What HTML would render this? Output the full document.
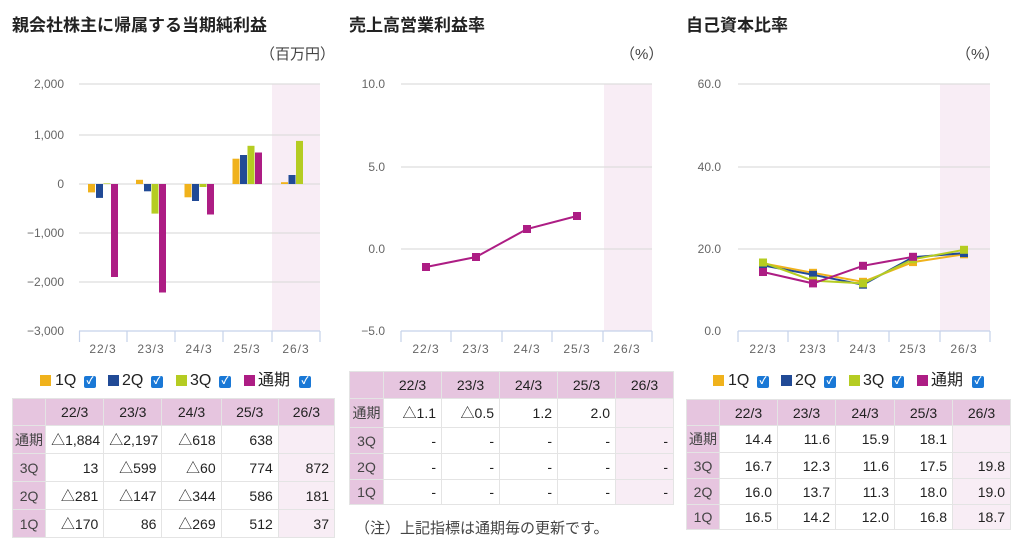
<!DOCTYPE html>
<html><head><meta charset="utf-8"><style>
body{margin:0;width:1024px;height:546px;background:#fff;position:relative;overflow:hidden;font-family:"Liberation Sans","Noto Sans CJK JP",sans-serif;color:#222}
.t{position:absolute;font-weight:bold;font-size:17px;top:11px}
.u{position:absolute;font-size:15px;color:#444;top:43px}
table{position:absolute;border-collapse:collapse;font-size:14px;table-layout:fixed}
td,th{border:1.5px solid #e4e4e4;padding:0 5px;text-align:right;color:#222;font-weight:normal}
th{background:#e6c5df;text-align:center}
td.h{background:#e6c5df;text-align:center;color:#444;padding:0}
td.s{background:#f8edf5}
.lg{position:absolute;top:372px;font-size:16px;height:18px}
.lg span{position:absolute;top:0;line-height:18px}
.sq{width:11px;height:11px;top:3px!important}
.cb{width:12px;height:12px;top:4px!important;background:#1a78d6;border-radius:2px;color:#fff;font-size:10px;line-height:12px!important;text-align:center;font-weight:bold}
</style></head><body>
<div class="t" style="left:12px">親会社株主に帰属する当期純利益</div>
<div class="t" style="left:349px">売上高営業利益率</div>
<div class="t" style="left:686px">自己資本比率</div>
<div class="u" style="left:260px">（百万円）</div>
<div class="u" style="left:620px">（%）</div>
<div class="u" style="left:956px">（%）</div>

<svg width="1024" height="546" style="position:absolute;left:0;top:0" font-family="Liberation Sans, sans-serif" font-size="12" fill="#666">
<rect x="272" y="84" width="48" height="247" fill="#f8edf5"/>
<g stroke="#ddd" stroke-width="1.2">
<line x1="79" x2="320" y1="84" y2="84"/><line x1="79" x2="320" y1="135" y2="135"/><line x1="79" x2="320" y1="184" y2="184"/><line x1="79" x2="320" y1="233" y2="233"/><line x1="79" x2="320" y1="282" y2="282"/>
</g>
<g stroke="#c5d2ea" stroke-width="1.2"><line x1="79" x2="320" y1="331" y2="331"/>
<line x1="79.5" x2="79.5" y1="331" y2="342"/><line x1="127" x2="127" y1="331" y2="342"/><line x1="175" x2="175" y1="331" y2="342"/><line x1="223" x2="223" y1="331" y2="342"/><line x1="272" x2="272" y1="331" y2="342"/><line x1="320" x2="320" y1="331" y2="342"/></g>
<g text-anchor="end"><text x="64" y="88">2,000</text><text x="64" y="139">1,000</text><text x="64" y="188">0</text><text x="64" y="237">−1,000</text><text x="64" y="286">−2,000</text><text x="64" y="335">−3,000</text></g>
<g text-anchor="middle" letter-spacing="1"><text x="103" y="353">22/3</text><text x="151" y="353">23/3</text><text x="199" y="353">24/3</text><text x="247" y="353">25/3</text><text x="296" y="353">26/3</text></g>
<g>
<rect x="88" y="184" width="7" height="8.4" fill="#f0b21c"/><rect x="96" y="184" width="7" height="13.9" fill="#214a96"/><rect x="103.5" y="183.4" width="7" height="0.6" fill="#b5cc22"/><rect x="111" y="184" width="7" height="93" fill="#ad1d84"/>
<rect x="136" y="179.8" width="7" height="4.2" fill="#f0b21c"/><rect x="144" y="184" width="7" height="7.3" fill="#214a96"/><rect x="151.5" y="184" width="7" height="29.6" fill="#b5cc22"/><rect x="159" y="184" width="7" height="108.5" fill="#ad1d84"/>
<rect x="184.5" y="184" width="7" height="13.3" fill="#f0b21c"/><rect x="192" y="184" width="7" height="17" fill="#214a96"/><rect x="199.5" y="184" width="7" height="3" fill="#b5cc22"/><rect x="207" y="184" width="7" height="30.5" fill="#ad1d84"/>
<rect x="232.5" y="158.7" width="7" height="25.3" fill="#f0b21c"/><rect x="240" y="155" width="7" height="29" fill="#214a96"/><rect x="247.5" y="145.8" width="7" height="38.2" fill="#b5cc22"/><rect x="255" y="152.5" width="7" height="31.5" fill="#ad1d84"/>
<rect x="281" y="182.2" width="7" height="1.8" fill="#f0b21c"/><rect x="288.5" y="175" width="7" height="9" fill="#214a96"/><rect x="296" y="140.9" width="7" height="43.1" fill="#b5cc22"/>
</g>
<rect x="604" y="84" width="48" height="247" fill="#f8edf5"/>
<g stroke="#ddd" stroke-width="1.2"><line x1="401" x2="652" y1="84" y2="84"/><line x1="401" x2="652" y1="167" y2="167"/><line x1="401" x2="652" y1="249" y2="249"/></g>
<g stroke="#c5d2ea" stroke-width="1.2"><line x1="401" x2="652" y1="331" y2="331"/>
<line x1="401" x2="401" y1="331" y2="342"/><line x1="451" x2="451" y1="331" y2="342"/><line x1="502" x2="502" y1="331" y2="342"/><line x1="552" x2="552" y1="331" y2="342"/><line x1="603" x2="603" y1="331" y2="342"/><line x1="652" x2="652" y1="331" y2="342"/></g>
<g text-anchor="end"><text x="385" y="88">10.0</text><text x="385" y="171">5.0</text><text x="385" y="253">0.0</text><text x="385" y="335">−5.0</text></g>
<g text-anchor="middle" letter-spacing="1"><text x="426" y="353">22/3</text><text x="476" y="353">23/3</text><text x="527" y="353">24/3</text><text x="577" y="353">25/3</text><text x="627" y="353">26/3</text></g>
<polyline points="426,267 476,257 527,229 577,216" fill="none" stroke="#ad1d84" stroke-width="2"/>
<g fill="#ad1d84"><rect x="422" y="263" width="8" height="8"/><rect x="472" y="253" width="8" height="8"/><rect x="523" y="225" width="8" height="8"/><rect x="573" y="212" width="8" height="8"/></g>
<rect x="940" y="84" width="50" height="247" fill="#f8edf5"/>
<g stroke="#ddd" stroke-width="1.2"><line x1="738" x2="990" y1="84" y2="84"/><line x1="738" x2="990" y1="167" y2="167"/><line x1="738" x2="990" y1="249" y2="249"/></g>
<g stroke="#c5d2ea" stroke-width="1.2"><line x1="738" x2="990" y1="331" y2="331"/>
<line x1="738" x2="738" y1="331" y2="342"/><line x1="788" x2="788" y1="331" y2="342"/><line x1="838" x2="838" y1="331" y2="342"/><line x1="889" x2="889" y1="331" y2="342"/><line x1="940" x2="940" y1="331" y2="342"/><line x1="990" x2="990" y1="331" y2="342"/></g>
<g text-anchor="end"><text x="721" y="88">60.0</text><text x="721" y="171">40.0</text><text x="721" y="253">20.0</text><text x="721" y="335">0.0</text></g>
<g text-anchor="middle" letter-spacing="1"><text x="763" y="353">22/3</text><text x="813" y="353">23/3</text><text x="863" y="353">24/3</text><text x="913" y="353">25/3</text><text x="964" y="353">26/3</text></g>
<g fill="none" stroke-width="2">
<polyline stroke="#f0b21c" points="763,263.4 813,272.8 863,281.8 913,262.1 964,254.3"/>
<polyline stroke="#214a96" points="763,265.4 813,274.8 863,284.7 913,257.2 964,253.1"/>
<polyline stroke="#b5cc22" points="763,262.5 813,280.6 863,283.4 913,259.3 964,249.8"/>
<polyline stroke="#ad1d84" points="763,272 813,283.4 863,265.8 913,256.8"/>
</g>
<g fill="#f0b21c"><rect x="759" y="259.4" width="8" height="8"/><rect x="809" y="268.8" width="8" height="8"/><rect x="859" y="277.8" width="8" height="8"/><rect x="909" y="258.1" width="8" height="8"/><rect x="960" y="250.3" width="8" height="8"/></g>
<g fill="#214a96"><rect x="759" y="261.4" width="8" height="8"/><rect x="809" y="270.8" width="8" height="8"/><rect x="859" y="280.7" width="8" height="8"/><rect x="909" y="253.2" width="8" height="8"/><rect x="960" y="249.1" width="8" height="8"/></g>
<g fill="#b5cc22"><rect x="759" y="258.5" width="8" height="8"/><rect x="809" y="276.6" width="8" height="8"/><rect x="859" y="279.4" width="8" height="8"/><rect x="909" y="255.3" width="8" height="8"/><rect x="960" y="245.8" width="8" height="8"/></g>
<g fill="#ad1d84"><rect x="759" y="268" width="8" height="8"/><rect x="809" y="279.4" width="8" height="8"/><rect x="859" y="261.8" width="8" height="8"/><rect x="909" y="252.8" width="8" height="8"/></g>
</svg>

<div class="lg" style="left:40px;width:300px">
<span class="sq" style="left:0;background:#f0b21c"></span><span style="left:15px">1Q</span><span class="cb" style="left:44px">✓</span>
<span class="sq" style="left:68px;background:#214a96"></span><span style="left:82px">2Q</span><span class="cb" style="left:111px">✓</span>
<span class="sq" style="left:136px;background:#b5cc22"></span><span style="left:150px">3Q</span><span class="cb" style="left:179px">✓</span>
<span class="sq" style="left:204px;background:#ad1d84"></span><span style="left:218px">通期</span><span class="cb" style="left:259px">✓</span>
</div>
<div class="lg" style="left:713px;width:300px">
<span class="sq" style="left:0;background:#f0b21c"></span><span style="left:15px">1Q</span><span class="cb" style="left:44px">✓</span>
<span class="sq" style="left:68px;background:#214a96"></span><span style="left:82px">2Q</span><span class="cb" style="left:111px">✓</span>
<span class="sq" style="left:136px;background:#b5cc22"></span><span style="left:150px">3Q</span><span class="cb" style="left:179px">✓</span>
<span class="sq" style="left:204px;background:#ad1d84"></span><span style="left:218px">通期</span><span class="cb" style="left:259px">✓</span>
</div>

<table style="left:12px;top:398px;width:323px">
<colgroup><col style="width:33px"><col style="width:58px"><col style="width:58px"><col style="width:59px"><col style="width:57px"><col style="width:56px"></colgroup>
<tr style="height:27px"><th></th><th>22/3</th><th>23/3</th><th>24/3</th><th>25/3</th><th>26/3</th></tr>
<tr style="height:28px"><td class="h">通期</td><td>△1,884</td><td>△2,197</td><td>△618</td><td>638</td><td class="s"></td></tr>
<tr style="height:28px"><td class="h">3Q</td><td>13</td><td>△599</td><td>△60</td><td>774</td><td class="s">872</td></tr>
<tr style="height:28px"><td class="h">2Q</td><td>△281</td><td>△147</td><td>△344</td><td>586</td><td class="s">181</td></tr>
<tr style="height:28px"><td class="h">1Q</td><td>△170</td><td>86</td><td>△269</td><td>512</td><td class="s">37</td></tr>
</table>

<table style="left:349px;top:371px;width:324px">
<colgroup><col style="width:34px"><col style="width:58px"><col style="width:58px"><col style="width:58px"><col style="width:58px"><col style="width:58px"></colgroup>
<tr style="height:27px"><th></th><th>22/3</th><th>23/3</th><th>24/3</th><th>25/3</th><th>26/3</th></tr>
<tr style="height:29px"><td class="h">通期</td><td>△1.1</td><td>△0.5</td><td>1.2</td><td>2.0</td><td class="s"></td></tr>
<tr style="height:26px"><td class="h">3Q</td><td>-</td><td>-</td><td>-</td><td>-</td><td class="s">-</td></tr>
<tr style="height:26px"><td class="h">2Q</td><td>-</td><td>-</td><td>-</td><td>-</td><td class="s">-</td></tr>
<tr style="height:25px"><td class="h">1Q</td><td>-</td><td>-</td><td>-</td><td>-</td><td class="s">-</td></tr>
</table>
<div style="position:absolute;left:355px;top:517px;font-size:15px;color:#444">（注）上記指標は通期毎の更新です。</div>

<table style="left:686px;top:399px;width:324px">
<colgroup><col style="width:33px"><col style="width:58px"><col style="width:58px"><col style="width:59px"><col style="width:58px"><col style="width:58px"></colgroup>
<tr style="height:26px"><th></th><th>22/3</th><th>23/3</th><th>24/3</th><th>25/3</th><th>26/3</th></tr>
<tr style="height:27px"><td class="h">通期</td><td>14.4</td><td>11.6</td><td>15.9</td><td>18.1</td><td class="s"></td></tr>
<tr style="height:26px"><td class="h">3Q</td><td>16.7</td><td>12.3</td><td>11.6</td><td>17.5</td><td class="s">19.8</td></tr>
<tr style="height:26px"><td class="h">2Q</td><td>16.0</td><td>13.7</td><td>11.3</td><td>18.0</td><td class="s">19.0</td></tr>
<tr style="height:25px"><td class="h">1Q</td><td>16.5</td><td>14.2</td><td>12.0</td><td>16.8</td><td class="s">18.7</td></tr>
</table>
</body></html>
